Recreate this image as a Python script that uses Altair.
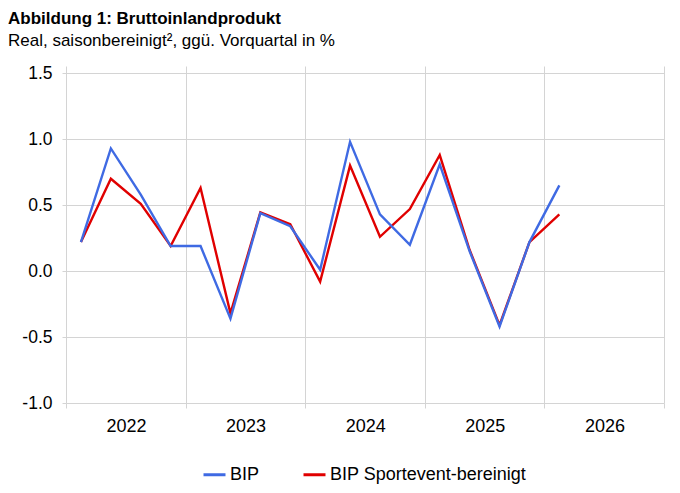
import altair as alt
import pandas as pd

quarters = ["2022-Q1", "2022-Q2", "2022-Q3", "2022-Q4",
            "2023-Q1", "2023-Q2", "2023-Q3", "2023-Q4",
            "2024-Q1", "2024-Q2", "2024-Q3", "2024-Q4",
            "2025-Q1", "2025-Q2", "2025-Q3", "2025-Q4",
            "2026-Q1"]
bip = [0.22, 0.93, 0.58, 0.19, 0.19, -0.36, 0.44, 0.34, 0.01,
       0.98, 0.43, 0.20, 0.81, 0.15, -0.42, 0.22, 0.65]
bip_sport = [0.22, 0.70, 0.51, 0.19, 0.63, -0.32, 0.445, 0.355, -0.08,
             0.80, 0.26, 0.47, 0.88, 0.16, -0.41, 0.22, 0.43]
series_names = ["BIP", "BIP Sportevent-bereinigt"]
series_colors = ["#3F6AE3", "#E00000"]
year_ticks = [2022, 2023, 2024, 2025, 2026, 2027]
y_ticks = [-1.0, -0.5, 0.0, 0.5, 1.0, 1.5]

FONT = "Liberation Sans"
GRID = "#D4D4D4"


def to_t(q):
    y, qq = q.split("-Q")
    return int(y) + (int(qq) - 0.5) / 4


rows = []
for q, a, b in zip(quarters, bip, bip_sport):
    rows.append({"t": to_t(q), "series": series_names[0], "value": a})
    rows.append({"t": to_t(q), "series": series_names[1], "value": b})
df = pd.DataFrame(rows)

x = alt.X(
    "t:Q",
    scale=alt.Scale(domain=[2022, 2027], nice=False, zero=False),
    axis=alt.Axis(
        values=year_ticks, title=None, grid=True, gridColor=GRID,
        domain=False, ticks=True, tickColor=GRID, tickSize=5,
        labelExpr="datum.value == 2027 ? '' : format(datum.value, 'd')",
        labelOffset=60, labelPadding=9, labelFontSize=18, labelFont=FONT,
        labelColor="black", labelOverlap=False, labelFlush=False,
    ),
)
y = alt.Y(
    "value:Q",
    scale=alt.Scale(domain=[-1, 1.555], nice=False, zero=False),
    axis=alt.Axis(
        values=y_ticks, title=None, grid=True, gridColor=GRID,
        domain=False, ticks=True, tickColor=GRID, tickSize=4,
        labelExpr="(datum.value < 0 ? '-' : '') + format(abs(datum.value), '.1f')",
        labelPadding=10, labelFontSize=17.5, labelFont=FONT,
        labelColor="black", labelOverlap=False, labelFlush=False,
    ),
)
color = alt.Color(
    "series:N",
    scale=alt.Scale(domain=series_names, range=series_colors),
    legend=alt.Legend(
        title=None, orient="none", legendX=136, legendY=396,
        direction="horizontal", symbolType="stroke", symbolStrokeWidth=3,
        symbolSize=484, labelFontSize=18, labelFont=FONT, labelColor="black",
        labelOffset=3, columnPadding=37, padding=0, labelLimit=400,
    ),
)

base = alt.Chart(df).mark_line(strokeWidth=2.4).encode(x=x, y=y, color=color)
red = base.transform_filter(alt.datum.series == series_names[1])
blue = base.transform_filter(alt.datum.series == series_names[0])

chart = alt.layer(red, blue).properties(
    width=598,
    height=337,
    autosize=alt.AutoSizeParams(type="none"),
    padding={"left": 58, "top": 58, "right": 6, "bottom": 82},
    title=alt.TitleParams(
        text="Abbildung 1: Bruttoinlandprodukt",
        subtitle="Real, saisonbereinigt², ggü. Vorquartal in %",
        anchor="start", frame="group", dx=-58, offset=14,
        font=FONT, fontSize=17, fontWeight="bold", color="black",
        subtitleFont=FONT, subtitleFontSize=17, subtitleColor="black",
        subtitlePadding=5,
    ),
).configure_view(stroke=None)

chart.save("out.html", embed_options={"renderer": "svg", "actions": False})
